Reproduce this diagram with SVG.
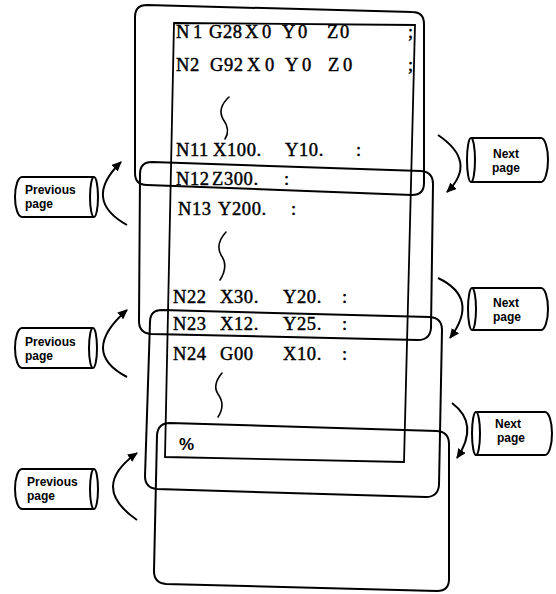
<svg xmlns="http://www.w3.org/2000/svg" width="556" height="594" viewBox="0 0 556 594">
<style>
.box{fill:none;stroke:#000;stroke-width:2;stroke-linejoin:round}
.tape{fill:none;stroke:#000;stroke-width:1.8}
.code{font-family:"Liberation Serif","Times New Roman",serif;font-size:18.5px;fill:#000;stroke:#000;stroke-width:0.45;letter-spacing:0.6px}
.sq{fill:none;stroke:#000;stroke-width:1.6;stroke-linecap:round}
.cyl{fill:#fff;stroke:#000;stroke-width:2;stroke-linejoin:round}
.lbl{font-family:"Liberation Sans",Arial,sans-serif;font-size:12px;font-weight:bold;fill:#000}
.arc{fill:none;stroke:#000;stroke-width:2}
</style>
<defs>
<marker id="ah" markerUnits="userSpaceOnUse" markerWidth="11" markerHeight="9" refX="9" refY="4.5" orient="auto">
<path d="M0,0 L10,4.5 L0,9 Z" fill="#000"/>
</marker>
</defs>

<g id="tape">
<polygon class="tape" points="174,23 415,25 404,462 165,457"/>
<text class="code" y="38"><tspan x="176">N</tspan> <tspan x="193">1</tspan> <tspan x="209">G28</tspan> <tspan x="245">X</tspan><tspan x="262">0</tspan> <tspan x="282">Y</tspan><tspan x="298">0</tspan> <tspan x="327">Z</tspan><tspan x="340">0</tspan> <tspan x="408">;</tspan></text>
<text class="code" y="71"><tspan x="176">N</tspan> <tspan x="190">2</tspan> <tspan x="210">G92</tspan> <tspan x="247">X</tspan><tspan x="265">0</tspan> <tspan x="285">Y</tspan><tspan x="302">0</tspan> <tspan x="328">Z</tspan><tspan x="343">0</tspan> <tspan x="408">;</tspan></text>
<path class="sq" d="M229,97 Q217,108 223,119 Q231,130 225,139"/>
<text class="code" y="156"><tspan x="176">N11</tspan> <tspan x="213">X100.</tspan> <tspan x="285">Y10.</tspan> <tspan x="356">:</tspan></text>
<text class="code" y="185"><tspan x="176">N12</tspan> <tspan x="212">Z300.</tspan> <tspan x="284">:</tspan></text>
<text class="code" y="215"><tspan x="178">N13</tspan> <tspan x="218">Y200.</tspan> <tspan x="291">:</tspan></text>
<path class="sq" d="M226,232 Q215,244 221,255 Q229,266 220,280"/>
<text class="code" y="303"><tspan x="173">N22</tspan> <tspan x="220">X30.</tspan> <tspan x="283">Y20.</tspan> <tspan x="342">:</tspan></text>
<text class="code" y="330"><tspan x="173">N23</tspan> <tspan x="220">X12.</tspan> <tspan x="283">Y25.</tspan> <tspan x="342">:</tspan></text>
<text class="code" y="360"><tspan x="173">N24</tspan> <tspan x="220">G00</tspan> <tspan x="283">X10.</tspan> <tspan x="342">:</tspan></text>
<path class="sq" d="M222,373 Q212,385 218,394 Q226,405 218,417"/>
<text x="179" y="450" style="font-family:'Liberation Sans',Arial,sans-serif;font-size:17px;font-weight:bold">%</text>
</g>

<g id="window1"><path class="box" d="M147,5 L412,12 Q424,12 424,24 L424,183 Q424,195 412,195 L147,185 Q135,185 135,173 L135,17 Q135,5 147,5 Z"/></g>
<g id="window2"><path class="box" d="M152,162 L421,171 Q433,172 433,184 L431,328 Q430,340 418,340 L151,334 Q139,333 139,321 L140,174 Q140,162 152,162 Z"/></g>
<g id="window3"><path class="box" d="M162,310 L430,317 Q442,318 442,330 L439,485 Q438,497 426,497 L157,489 Q145,488 145,476 L150,322 Q150,310 162,310 Z"/></g>
<g id="window4"><path class="box" d="M170,423 L437,431 Q449,432 449,444 L449,579 Q449,591 437,591 L166,584 Q154,583 154,571 L157,435 Q158,423 170,423 Z"/></g>

<g id="prev1">
<path class="cyl" d="M94,177 L22,177 A7,20 0 0 0 22,217 L94,217"/>
<ellipse class="cyl" cx="94" cy="197" rx="4" ry="20"/>
<text class="lbl" x="25" y="194">Previous</text>
<text class="lbl" x="25" y="208">page</text>
</g>
<g id="prev2">
<path class="cyl" d="M93,328 L22,328 A7,20 0 0 0 22,368 L93,368"/>
<ellipse class="cyl" cx="93" cy="348" rx="4" ry="20"/>
<text class="lbl" x="25" y="346">Previous</text>
<text class="lbl" x="25" y="360">page</text>
</g>
<g id="prev3">
<path class="cyl" d="M94,469 L22,469 A7,20 0 0 0 22,509 L94,509"/>
<ellipse class="cyl" cx="94" cy="489" rx="4" ry="20"/>
<text class="lbl" x="27" y="486">Previous</text>
<text class="lbl" x="27" y="500">page</text>
</g>

<g id="next1">
<path class="cyl" d="M471,138 L541,138 A7,22 0 0 1 541,182 L471,182"/>
<ellipse class="cyl" cx="471" cy="160" rx="4" ry="22"/>
<text class="lbl" x="493" y="158">Next</text>
<text class="lbl" x="492" y="172">page</text>
</g>
<g id="next2">
<path class="cyl" d="M472,288 L541,288 A7,21 0 0 1 541,330 L472,330"/>
<ellipse class="cyl" cx="472" cy="309" rx="4" ry="21"/>
<text class="lbl" x="493" y="307">Next</text>
<text class="lbl" x="493" y="321">page</text>
</g>
<g id="next3">
<path class="cyl" d="M476,412 L545,412 A7,21.5 0 0 1 545,455 L476,455"/>
<ellipse class="cyl" cx="476" cy="433.5" rx="4" ry="21.5"/>
<text class="lbl" x="495" y="428">Next</text>
<text class="lbl" x="497" y="442">page</text>
</g>

<g id="connectors">
<path class="arc" d="M127,225 Q82,200 121,162" marker-end="url(#ah)"/>
<path class="arc" d="M127,377 Q79,352 127,310" marker-end="url(#ah)"/>
<path class="arc" d="M137,520 Q89,487 137,453" marker-end="url(#ah)"/>
<path class="arc" d="M438,135 Q478,162 447,192" marker-end="url(#ah)"/>
<path class="arc" d="M438,278 Q480,298 450,338" marker-end="url(#ah)"/>
<path class="arc" d="M452,403 Q480,424 457,458" marker-end="url(#ah)"/>
</g>
</svg>
